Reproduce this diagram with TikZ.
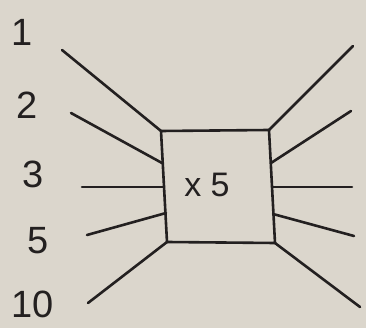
\documentclass[tikz,border=0pt]{standalone}
\usepackage{fontspec}
\setmainfont{Liberation Sans}
\definecolor{paper}{RGB}{219,214,204}
\definecolor{ink}{RGB}{35,32,32}
\begin{document}
\begin{tikzpicture}[x=1pt,y=-1pt,
  stroke/.style={draw=ink,line width=2.6pt,line cap=round,line join=round},
  lbl/.style={text=ink,font=\fontsize{38}{38}\selectfont,inner sep=0pt,anchor=base},
  mid/.style={text=ink,font=\fontsize{34}{34}\selectfont,inner sep=0pt,anchor=base}]
\fill[paper] (0,0) rectangle (366,328);
\useasboundingbox (0,0) rectangle (366,328);
% box corners
\coordinate (tl) at (161,131);
\coordinate (tr) at (269,130);
\coordinate (br) at (275,243);
\coordinate (bl) at (167,242);
% points on box sides
\coordinate (l2) at (162,163);
\coordinate (l3) at (163,187);
\coordinate (l5) at (166,213);
\coordinate (r2) at (271,163);
\coordinate (r3) at (272,187);
\coordinate (r5) at (273,214);
% free ends
\coordinate (a1) at (62,50);
\coordinate (a2) at (71,113);
\coordinate (a3) at (82,187);
\coordinate (a5) at (87,235);
\coordinate (a10) at (88,303);
\coordinate (b1) at (353,46);
\coordinate (b2) at (351,111);
\coordinate (b3) at (352,187);
\coordinate (b5) at (354,236);
\coordinate (b10) at (360,307);
\draw[stroke] (tl) -- (tr) -- (br) -- (bl) -- cycle;
\draw[stroke] (a1) -- (tl);
\draw[stroke] (a2) -- (l2);
\draw[stroke] (a3) -- (l3);
\draw[stroke] (a5) -- (l5);
\draw[stroke] (a10) -- (bl);
\draw[stroke] (b1) -- (tr);
\draw[stroke] (b2) -- (r2);
\draw[stroke] (b3) -- (r3);
\draw[stroke] (b5) -- (r5);
\draw[stroke] (b10) -- (br);
\node[lbl] (n1) at (22,46) {1};
\node[lbl] (n2) at (27,119) {2};
\node[lbl] (n3) at (33,188) {3};
\node[lbl] (n5) at (38,253) {5};
\node[lbl] (n10) at (33,317) {10};
\node[mid] (x) at (207,197) {x 5};
\end{tikzpicture}
\end{document}
